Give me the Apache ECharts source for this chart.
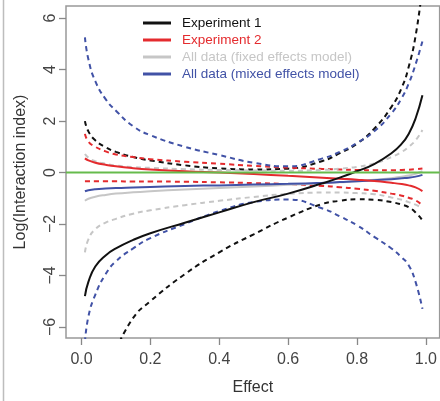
<!DOCTYPE html>
<html>
<head>
<meta charset="utf-8">
<script src="https://cdn.jsdelivr.net/npm/echarts@6/dist/echarts.min.js"></script>
<style>
  html, body { margin: 0; padding: 0; background: #fff; }
  #chart { width: 440px; height: 401px; }
</style>
</head>
<body>
<div id="chart"></div>
<script>
// effect values shared by all curves
var effect = [0.01, 0.02, 0.04, 0.07, 0.1, 0.15, 0.2, 0.3, 0.4, 0.5, 0.6, 0.7, 0.75, 0.8, 0.85, 0.9, 0.93, 0.95, 0.97, 0.99];

// Experiment 1
var exp1 = [-4.8, -4.25, -3.65, -3.22, -2.95, -2.62, -2.36, -1.95, -1.55, -1.15, -0.82, -0.42, -0.2, 0.05, 0.33, 0.75, 1.12, 1.5, 2.1, 3.0];
var exp1Hi = [2.0, 1.6, 1.25, 0.98, 0.8, 0.6, 0.47, 0.28, 0.16, 0.12, 0.15, 0.45, 0.75, 1.12, 1.7, 2.55, 3.3, 4.1, 5.3, 7.2];
var exp1Lo = [null, null, null, null, -6.9, -5.65, -5.0, -3.95, -3.1, -2.4, -1.75, -1.22, -1.1, -1.04, -1.06, -1.15, -1.25, -1.35, -1.55, -1.86];

// Experiment 2
var exp2 = [0.55, 0.47, 0.38, 0.3, 0.24, 0.17, 0.12, 0.05, 0.0, -0.06, -0.13, -0.2, -0.24, -0.28, -0.33, -0.4, -0.45, -0.5, -0.58, -0.72];
var exp2Hi = [1.5, 1.2, 1.0, 0.82, 0.7, 0.6, 0.52, 0.42, 0.34, 0.26, 0.19, 0.14, 0.12, 0.1, 0.09, 0.09, 0.1, 0.11, 0.13, 0.16];
var exp2Lo = [-0.34, -0.34, -0.34, -0.34, -0.34, -0.35, -0.35, -0.36, -0.38, -0.41, -0.45, -0.52, -0.57, -0.63, -0.71, -0.82, -0.9, -0.98, -1.08, -1.28];

// All data, fixed effects model
var fixed = [-1.1, -1.02, -0.94, -0.87, -0.82, -0.77, -0.73, -0.66, -0.6, -0.54, -0.48, -0.42, -0.38, -0.34, -0.28, -0.22, -0.16, -0.12, -0.05, 0.05];
var fixedHi = [0.72, 0.58, 0.44, 0.34, 0.27, 0.21, 0.18, 0.13, 0.1, 0.08, 0.07, 0.1, 0.15, 0.22, 0.35, 0.6, 0.8, 1.0, 1.25, 1.65];
var fixedLo = [-3.1, -2.6, -2.2, -1.95, -1.8, -1.6, -1.47, -1.27, -1.1, -0.95, -0.83, -0.78, -0.78, -0.8, -0.84, -0.97, -1.06, -1.15, -1.25, -1.38];

// All data, mixed effects model
var mixed = [-0.73, -0.69, -0.65, -0.62, -0.6, -0.58, -0.56, -0.52, -0.5, -0.47, -0.44, -0.4, -0.37, -0.34, -0.3, -0.26, -0.22, -0.2, -0.16, -0.09];
var mixedHi = [5.25, 4.4, 3.55, 2.85, 2.4, 1.8, 1.45, 1.0, 0.68, 0.38, 0.24, 0.55, 0.8, 1.15, 1.6, 2.3, 2.9, 3.45, 4.2, 5.1];
var mixedLo = [-6.6, -5.6, -4.75, -3.95, -3.45, -2.95, -2.55, -2.0, -1.5, -1.15, -1.05, -1.4, -1.7, -2.05, -2.5, -2.95, -3.3, -3.6, -4.25, -5.3];

// reference line at zero
var zeroX = [-0.045, 1.04];
var zeroY = [0, 0];

var xTicks = [0, 0.2, 0.4, 0.6, 0.8, 1.0];
var yTicks = [-6, -4, -2, 0, 2, 4, 6];

var legendNames = ['Experiment 1', 'Experiment 2', 'All data (fixed effects model)', 'All data (mixed effects model)'];

var BLACK = '#111111', RED = '#e42b2e', GREY = '#c6c6c6', BLUE = '#4152a6', GREEN = '#66bb4c';

function pts(xs, ys) {
  var out = [];
  for (var i = 0; i < xs.length; i++) {
    if (ys[i] != null) out.push([xs[i], ys[i]]);
  }
  return out;
}

function curve(name, ys, color, dashed) {
  return {
    name: name,
    type: 'line',
    data: pts(effect, ys),
    color: color,
    showSymbol: false,
    smooth: 0.5,
    lineStyle: { color: color, width: 2, type: dashed ? [5, 4] : 'solid' },
    z: dashed ? 2 : 3
  };
}

var chart = echarts.init(document.getElementById('chart'));

chart.setOption({
  animation: false,
  backgroundColor: '#fff',
  textStyle: { fontFamily: 'Liberation Sans, Arial, sans-serif' },
  graphic: [{
    type: 'line',
    shape: { x1: 3.5, y1: 0, x2: 3.5, y2: 401 },
    style: { stroke: '#bdbdbd', lineWidth: 1.5 }
  }],
  grid: {
    left: 66, top: 6, width: 379, height: 338,
    show: true, borderColor: '#999', borderWidth: 1.5
  },
  legend: {
    orient: 'vertical',
    left: 143, top: 16,
    padding: 0,
    itemWidth: 28, itemHeight: 3, itemGap: 3,
    icon: 'rect',
    textStyle: { fontSize: 13.5, lineHeight: 14, padding: [0, 0, 0, 6] },
    data: [
      { name: legendNames[0], textStyle: { color: BLACK } },
      { name: legendNames[1], textStyle: { color: RED } },
      { name: legendNames[2], textStyle: { color: GREY } },
      { name: legendNames[3], textStyle: { color: BLUE } }
    ]
  },
  xAxis: {
    type: 'value',
    min: -0.045, max: 1.04,
    axisLine: { show: false, onZero: false },
    splitLine: { show: false },
    axisTick: { show: true, customValues: xTicks, length: 7, lineStyle: { color: '#888', width: 1.3 } },
    axisLabel: {
      customValues: xTicks, fontSize: 16, color: '#444', margin: 14,
      formatter: function (v) { return v.toFixed(1); }
    },
    name: 'Effect', nameLocation: 'middle', nameGap: 42,
    nameTextStyle: { fontSize: 16, color: '#333' }
  },
  yAxis: {
    type: 'value',
    min: -6.43, max: 6.47,
    axisLine: { show: false, onZero: false },
    splitLine: { show: false },
    axisTick: { show: true, customValues: yTicks, length: 7, lineStyle: { color: '#888', width: 1.3 } },
    axisLabel: {
      customValues: yTicks, fontSize: 16, color: '#444', margin: 7, rotate: 90,
      formatter: function (v) { return String(v).replace('-', '\u2212'); }
    },
    name: 'Log(Interaction index)', nameLocation: 'middle', nameGap: 37,
    nameTextStyle: { fontSize: 16, color: '#333' }
  },
  series: [
    curve('Experiment 1 upper', exp1Hi, BLACK, true),
    curve('Experiment 1 lower', exp1Lo, BLACK, true),
    curve('Experiment 2 upper', exp2Hi, RED, true),
    curve('Experiment 2 lower', exp2Lo, RED, true),
    curve('fixed upper', fixedHi, GREY, true),
    curve('fixed lower', fixedLo, GREY, true),
    curve('mixed upper', mixedHi, BLUE, true),
    curve('mixed lower', mixedLo, BLUE, true),
    curve(legendNames[2], fixed, GREY, false),
    curve(legendNames[3], mixed, BLUE, false),
    curve(legendNames[1], exp2, RED, false),
    curve(legendNames[0], exp1, BLACK, false),
    {
      name: 'zero', type: 'line', data: pts(zeroX, zeroY), color: GREEN,
      showSymbol: false, lineStyle: { color: GREEN, width: 2 }, z: 4
    }
  ]
});
</script>
</body>
</html>
